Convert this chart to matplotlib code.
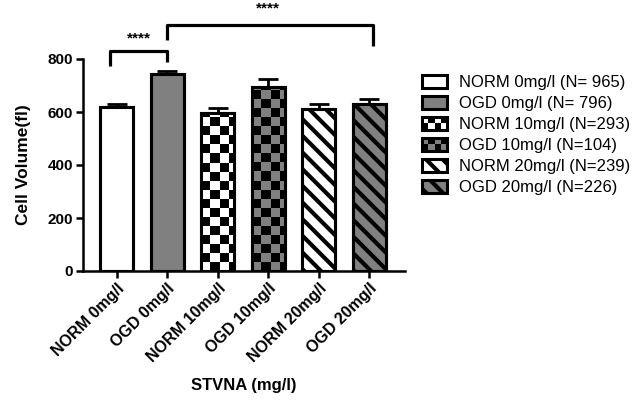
import numpy as np
import matplotlib
matplotlib.use("Agg")
import matplotlib.pyplot as plt
from matplotlib.colors import ListedColormap
from matplotlib.patches import Rectangle
from matplotlib.legend_handler import HandlerBase

plt.rcParams['font.family'] = ['Liberation Sans', 'DejaVu Sans']
plt.rcParams['hatch.linewidth'] = 3.0

groups = ["NORM 0mg/l", "OGD 0mg/l", "NORM 10mg/l", "OGD 10mg/l", "NORM 20mg/l", "OGD 20mg/l"]
legend_labels = ["NORM 0mg/l (N= 965)", "OGD 0mg/l (N= 796)", "NORM 10mg/l (N=293)",
                 "OGD 10mg/l (N=104)", "NORM 20mg/l (N=239)", "OGD 20mg/l (N=226)"]
means = [618, 743, 598, 695, 610, 630]
sem = [12, 12, 17, 31, 22, 18]

GRAY = '#808080'
fills = ['white', GRAY, 'white', GRAY, 'white', GRAY]
patterns = [None, None, 'checker', 'checker', '\\\\', '\\\\']

fig = plt.figure(figsize=(6.38, 4.0), dpi=100)
ax = fig.add_axes([0.130, 0.3225, 0.505, 0.53])

x = np.arange(len(groups))
w = 0.65
bars = ax.bar(x, means, width=w, color=fills, edgecolor='black', linewidth=2.2, zorder=2)
for b, p in zip(bars, patterns):
    if p == '\\\\':
        b.set_hatch(p)

# checkerboard fill, clipped to the bar
cell_x, cell_y = w / 3.5, 34.0
for b, p, fc in zip(bars, patterns, fills):
    if p != 'checker':
        continue
    nx = int(np.ceil(w / cell_x))
    ny = int(np.ceil(b.get_height() / cell_y))
    board = (np.add.outer(np.arange(ny), np.arange(nx)) % 2)
    x0 = b.get_x()
    im = ax.imshow(board, cmap=ListedColormap([fc, 'black']), origin='lower',
                   extent=[x0, x0 + nx * cell_x, 0, ny * cell_y],
                   interpolation='nearest', aspect='auto', zorder=2.5)
    im.set_clip_path(b)
ax.bar(x, means, width=w, fill=False, edgecolor='black', linewidth=2.2, zorder=3)

ax.errorbar(x, means, yerr=[np.zeros(len(sem)), sem], fmt='none', ecolor='black',
            elinewidth=2, capsize=7, capthick=2, zorder=1.5)

ax.set_xlim(-0.67, 5.71)
ax.set_ylim(0, 800)
ax.set_yticks([0, 200, 400, 600, 800])
ax.set_xticks(x)
ax.set_xticklabels(groups, rotation=45, ha='right', rotation_mode='anchor',
                   fontsize=11.5, fontweight='bold')
for t in ax.get_yticklabels():
    t.set_fontweight('bold')
    t.set_fontsize(11)
ax.tick_params(width=1.8, length=5, pad=2)
for s in ['top', 'right']:
    ax.spines[s].set_visible(False)
for s in ['left', 'bottom']:
    ax.spines[s].set_linewidth(1.8)

ax.set_ylabel("Cell Volume(fl)", fontsize=12.5, fontweight='bold', labelpad=12)
ax.set_xlabel("STVNA (mg/l)", fontsize=12, fontweight='bold', labelpad=9)

# significance brackets
kw = dict(color='black', lw=2.3, clip_on=False, solid_capstyle='butt')
ax.plot([-0.14, -0.14, 1, 1], [774, 830, 830, 789], **kw)
ax.text(0.43, 878, "****", ha='center', va='center', fontsize=11, fontweight='bold')
ax.plot([1, 1, 5.08, 5.08], [872, 928, 928, 849], **kw)
ax.text(3.0, 990, "****", ha='center', va='center', fontsize=11, fontweight='bold')


class BarHandler(HandlerBase):
    def __init__(self, fc, pattern):
        super().__init__()
        self.fc = fc
        self.pattern = pattern

    def create_artists(self, legend, orig_handle, xdescent, ydescent, width, height, fontsize, trans):
        x0, y0 = -xdescent, -ydescent
        arts = [Rectangle((x0, y0), width, height, facecolor=self.fc, edgecolor='black',
                          linewidth=2.2, transform=trans,
                          hatch='\\\\' if self.pattern == '\\\\' else None)]
        if self.pattern == 'checker':
            nx, ny = 4, 2
            for i in range(nx):
                for j in range(ny):
                    if (i + j) % 2 == 0:
                        arts.append(Rectangle((x0 + i * width / nx, y0 + j * height / ny),
                                              width / nx, height / ny, facecolor='black',
                                              edgecolor='none', transform=trans))
        return arts


handles = [Rectangle((0, 0), 1, 1) for _ in groups]
handler_map = {h: BarHandler(fc, p) for h, fc, p in zip(handles, fills, patterns)}
fig.legend(handles, legend_labels, handler_map=handler_map, loc='upper left',
           bbox_to_anchor=(422 / 638, 1 - 75 / 400), frameon=False, fontsize=12,
           handlelength=1.5, handleheight=0.8, handletextpad=0.7, labelspacing=0.35,
           borderpad=0, borderaxespad=0)

fig.savefig("out.png", dpi=100)
